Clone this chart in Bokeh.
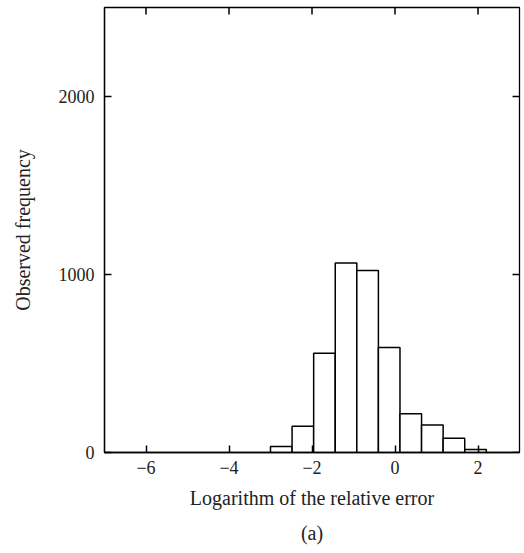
from bokeh.plotting import figure
from bokeh.models import LinearAxis, FixedTicker, Range1d, Title
from bokeh.embed import file_html
from bokeh.resources import INLINE

# Histogram data
bin_edges = [-3.0, -2.48, -1.96, -1.44, -0.92, -0.40, 0.12, 0.64, 1.16, 1.68, 2.20]
counts = [34, 148, 558, 1064, 1022, 590, 217, 155, 80, 17]
x_ticks = [-6, -4, -2, 0, 2]
x_tick_labels = ["\u22126", "\u22124", "\u22122", "0", "2"]
y_ticks = [0, 1000, 2000]
y_tick_labels = ["0", "1000", "2000"]

FONT = "Liberation Serif"
X0, X1 = -7, 3
Y0, Y1 = 0, 2500
W, H = 524, 553
BL, BR, BT, BB = 104, 5, 7, 101
TICK = 7  # px

p = figure(width=W, height=H, output_backend="svg", toolbar_location=None,
           x_range=Range1d(X0, X1), y_range=Range1d(Y0, Y1),
           min_border_left=BL, min_border_right=BR, min_border_top=BT, min_border_bottom=BB,
           x_axis_location=None, y_axis_location=None)

p.quad(left=bin_edges[:-1], right=bin_edges[1:], top=counts, bottom=0,
       fill_color="white", line_color="black", line_width=1.5)

# mirrored inward ticks on the top and right edges of the frame
dy = (Y1 - Y0) * TICK / (H - BT - BB)
dx = (X1 - X0) * TICK / (W - BL - BR)
p.segment(x0=x_ticks, y0=[Y1] * len(x_ticks), x1=x_ticks, y1=[Y1 - dy] * len(x_ticks),
          line_color="black", line_width=1.5)
p.segment(x0=[X1] * len(y_ticks), y0=y_ticks, x1=[X1 - dx] * len(y_ticks), y1=y_ticks,
          line_color="black", line_width=1.5)

p.xgrid.visible = False
p.ygrid.visible = False
p.outline_line_color = "black"
p.outline_line_width = 1.3
p.background_fill_color = "white"
p.border_fill_color = "white"


def style(ax):
    ax.major_tick_in = TICK
    ax.major_tick_out = 0
    ax.minor_tick_in = 0
    ax.minor_tick_out = 0
    ax.major_tick_line_width = 1.5
    ax.major_tick_line_color = "black"
    ax.axis_line_color = "black"
    ax.axis_line_width = 1.3
    ax.major_label_text_font = FONT
    ax.major_label_text_font_size = "18px"
    ax.major_label_text_color = "#222222"
    ax.axis_label_text_font = FONT
    ax.axis_label_text_font_size = "20px"
    ax.axis_label_text_font_style = "normal"
    ax.axis_label_text_color = "#222222"


xb = LinearAxis(ticker=FixedTicker(ticks=x_ticks),
                axis_label="Logarithm of the relative error")
xb.major_label_overrides = {t: l for t, l in zip(x_ticks, x_tick_labels)}
style(xb)
xb.major_label_standoff = 8
xb.axis_label_standoff = 10
p.add_layout(xb, "below")

yl = LinearAxis(ticker=FixedTicker(ticks=y_ticks), axis_label="Observed frequency")
yl.major_label_overrides = {t: l for t, l in zip(y_ticks, y_tick_labels)}
style(yl)
yl.major_label_standoff = 10
yl.axis_label_standoff = 22
p.add_layout(yl, "left")

cap = Title(text="(a)", align="center", text_font=FONT, text_font_size="20px",
            text_font_style="normal", text_color="#222222", standoff=16)
p.add_layout(cap, "below")

open("out.html", "w").write(file_html(p, INLINE))
